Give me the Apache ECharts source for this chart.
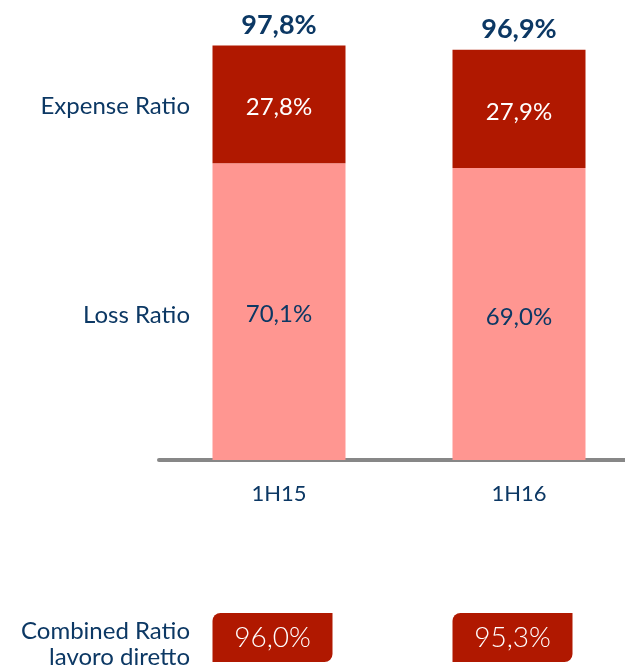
<!DOCTYPE html>
<html>
<head>
<meta charset="utf-8">
<script src="https://cdn.jsdelivr.net/npm/echarts@6/dist/echarts.min.js"></script>
<style>
  html, body { margin: 0; padding: 0; background: #fff; }
  #main { width: 625px; height: 668px; }
</style>
</head>
<body>
<div id="main"></div>
<script>
// dati
var categories = ['1H15', '1H16'];
var lossRatio = [70.1, 69.0];
var expenseRatio = [27.8, 27.9];
var totals = [97.8, 96.9];
var combinedDirect = [96.0, 95.3];
var seriesNames = ['Loss Ratio', 'Expense Ratio'];
var bottomLabel = 'Combined Ratio\nlavoro diretto';

var BLUE = '#0c3864';
var RED = '#b01800';
var PINK = '#ff9691';
var FONT = 'Lato';

function fmt(v) {
  return v.toFixed(1).replace('.', ',') + '%';
}

var chart = echarts.init(document.getElementById('main'));

chart.setOption({
  animation: false,
  textStyle: { fontFamily: FONT },
  grid: { left: 159, width: 480, top: 36.7, bottom: 208, outerBoundsMode: 'none' },
  xAxis: {
    type: 'category',
    data: categories,
    offset: 2,
    axisLine: { lineStyle: { color: '#878787', width: 4 } },
    axisTick: { show: false },
    axisLabel: { color: BLUE, fontSize: 22, margin: 21, fontFamily: FONT }
  },
  yAxis: {
    type: 'value',
    min: 0,
    max: 100,
    show: false,
    splitLine: { show: false }
  },
  series: [
    {
      name: seriesNames[0],
      type: 'bar',
      stack: 'cr',
      barWidth: 133,
      data: lossRatio,
      itemStyle: { color: PINK },
      label: {
        show: true, position: 'inside', color: BLUE, fontSize: 24,
        offset: [0, 3],
        formatter: function (p) { return fmt(p.value); }
      }
    },
    {
      name: seriesNames[1],
      type: 'bar',
      stack: 'cr',
      barWidth: 133,
      data: expenseRatio,
      itemStyle: { color: RED },
      label: {
        show: true, position: 'inside', color: '#fff', fontSize: 24,
        offset: [0, 3],
        formatter: function (p) { return fmt(p.value); }
      }
    },
    {
      name: 'Totale',
      type: 'bar',
      stack: 'cr',
      barWidth: 133,
      data: totals.map(function () { return 0; }),
      label: {
        show: true, position: 'top', distance: 7, color: BLUE, fontSize: 27, fontWeight: 'bold',
        formatter: function (p) { return fmt(totals[p.dataIndex]); }
      }
    }
  ]
});

// etichette a sinistra e box del combined ratio
var graphics = [];
var yExp = chart.convertToPixel({ yAxisIndex: 0 }, lossRatio[0] + expenseRatio[0] / 2);
var yLoss = chart.convertToPixel({ yAxisIndex: 0 }, lossRatio[0] / 2);
graphics.push({
  type: 'text', right: 435, top: yExp - 10,
  style: { text: seriesNames[1], fill: BLUE, font: '24px ' + FONT, textAlign: 'right' }
});
graphics.push({
  type: 'text', right: 435, top: yLoss - 8,
  style: { text: seriesNames[0], fill: BLUE, font: '24px ' + FONT, textAlign: 'right' }
});
graphics.push({
  type: 'text', right: 435, top: 618,
  style: { text: bottomLabel, fill: BLUE, font: '24px ' + FONT, textAlign: 'right', lineHeight: 26 }
});
categories.forEach(function (c, i) {
  var cx = chart.convertToPixel({ xAxisIndex: 0 }, c);
  var x0 = cx - 66.5;
  graphics.push({
    type: 'rect',
    shape: { x: x0, y: 613, width: 120, height: 49, r: [8, 0, 8, 0] },
    style: { fill: RED }
  });
  graphics.push({
    type: 'text',
    style: {
      text: fmt(combinedDirect[i]), x: x0 + 60, y: 638,
      fill: '#fff', font: '300 28px ' + FONT, textAlign: 'center', textVerticalAlign: 'middle'
    }
  });
});
chart.setOption({ graphic: graphics });
</script>
</body>
</html>
